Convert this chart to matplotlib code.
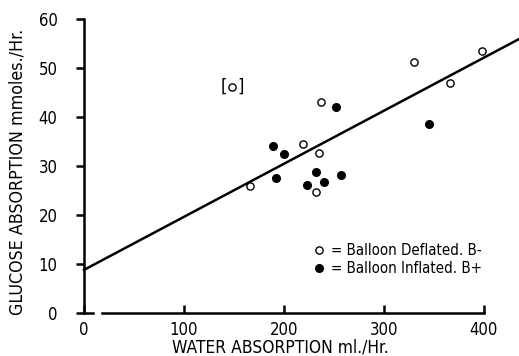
import matplotlib.pyplot as plt
from matplotlib import font_manager

names = {f.name for f in font_manager.fontManager.ttflist}
fam = 'Liberation Sans Narrow' if 'Liberation Sans Narrow' in names else 'DejaVu Sans'
plt.rcParams['font.family'] = [fam, 'DejaVu Sans']
plt.rcParams['font.stretch'] = 'condensed'

# balloon deflated (open circles)
defl_x = [237, 330, 398, 366, 219, 235, 166, 232]
defl_y = [43.0, 51.2, 53.5, 46.9, 34.5, 32.6, 26.0, 24.6]
# excluded point shown in brackets
out_x = [148]
out_y = [46.1]
# balloon inflated (filled circles)
infl_x = [252, 345, 189, 200, 192, 232, 240, 223, 257]
infl_y = [42.0, 38.6, 34.1, 32.5, 27.6, 28.7, 26.7, 26.1, 28.1]
# regression line
intercept = 8.8
slope = 0.1083
line_x = [0, 435]

fig = plt.figure(figsize=(5.19, 3.56), dpi=100)
ax = fig.add_axes([84 / 519, 43 / 356, 435 / 519, 294 / 356])
ax.set_xlim(0, 435)
ax.set_ylim(0, 60)

ax.plot(line_x, [intercept + slope * x for x in line_x], color='black', lw=1.8, clip_on=False, zorder=2)
ax.plot(defl_x, defl_y, 'o', mfc='white', mec='black', mew=1.0, ms=5.2, ls='none', zorder=3)
ax.plot(out_x, out_y, 'o', mfc='white', mec='black', mew=1.0, ms=5.2, ls='none', zorder=3)
ax.plot(infl_x, infl_y, 'o', color='black', ms=5.5, ls='none', zorder=3)
for px, py in zip(out_x, out_y):
    ax.annotate('[', (px, py), xytext=(-6, 0), textcoords='offset points',
                ha='center', va='center', fontsize=13)
    ax.annotate(']', (px, py), xytext=(6, 0), textcoords='offset points',
                ha='center', va='center', fontsize=13)

for s in ['top', 'right', 'bottom']:
    ax.spines[s].set_visible(False)
ax.spines['left'].set_bounds(0, 60)
ax.spines['left'].set_linewidth(1.8)
# broken bottom axis
ax.plot([0, 9], [0, 0], color='black', lw=1.8, clip_on=False)
ax.plot([18, 400], [0, 0], color='black', lw=1.8, clip_on=False)

ax.set_yticks([0, 10, 20, 30, 40, 50, 60])
ax.set_xticks([0, 100, 200, 300, 400])
ax.tick_params(axis='y', direction='out', length=6, width=1.8, labelsize=12, pad=13)
ax.tick_params(axis='x', direction='in', length=6, width=1.8, labelsize=12, pad=6)

ax.set_xlabel('WATER ABSORPTION ml./Hr.', fontsize=12.5)
ax.xaxis.set_label_coords(196 / 435, -26 / 294)
ax.set_ylabel('GLUCOSE ABSORPTION mmoles./Hr.', fontsize=12.8)
ax.yaxis.set_label_coords(-57 / 435, 0.481)

# legend key
ax.plot([235 / 435], [0.214], 'o', mfc='white', mec='black', mew=1.0, ms=5.2,
        transform=ax.transAxes, clip_on=False)
ax.plot([235 / 435], [0.153], 'o', color='black', ms=5.5,
        transform=ax.transAxes, clip_on=False)
ax.text(247 / 435, 0.214, '= Balloon Deflated. B-', transform=ax.transAxes,
        va='center', ha='left', fontsize=10.8)
ax.text(247 / 435, 0.153, '= Balloon Inflated. B+', transform=ax.transAxes,
        va='center', ha='left', fontsize=10.8)

fig.savefig('out.png', dpi=100)
